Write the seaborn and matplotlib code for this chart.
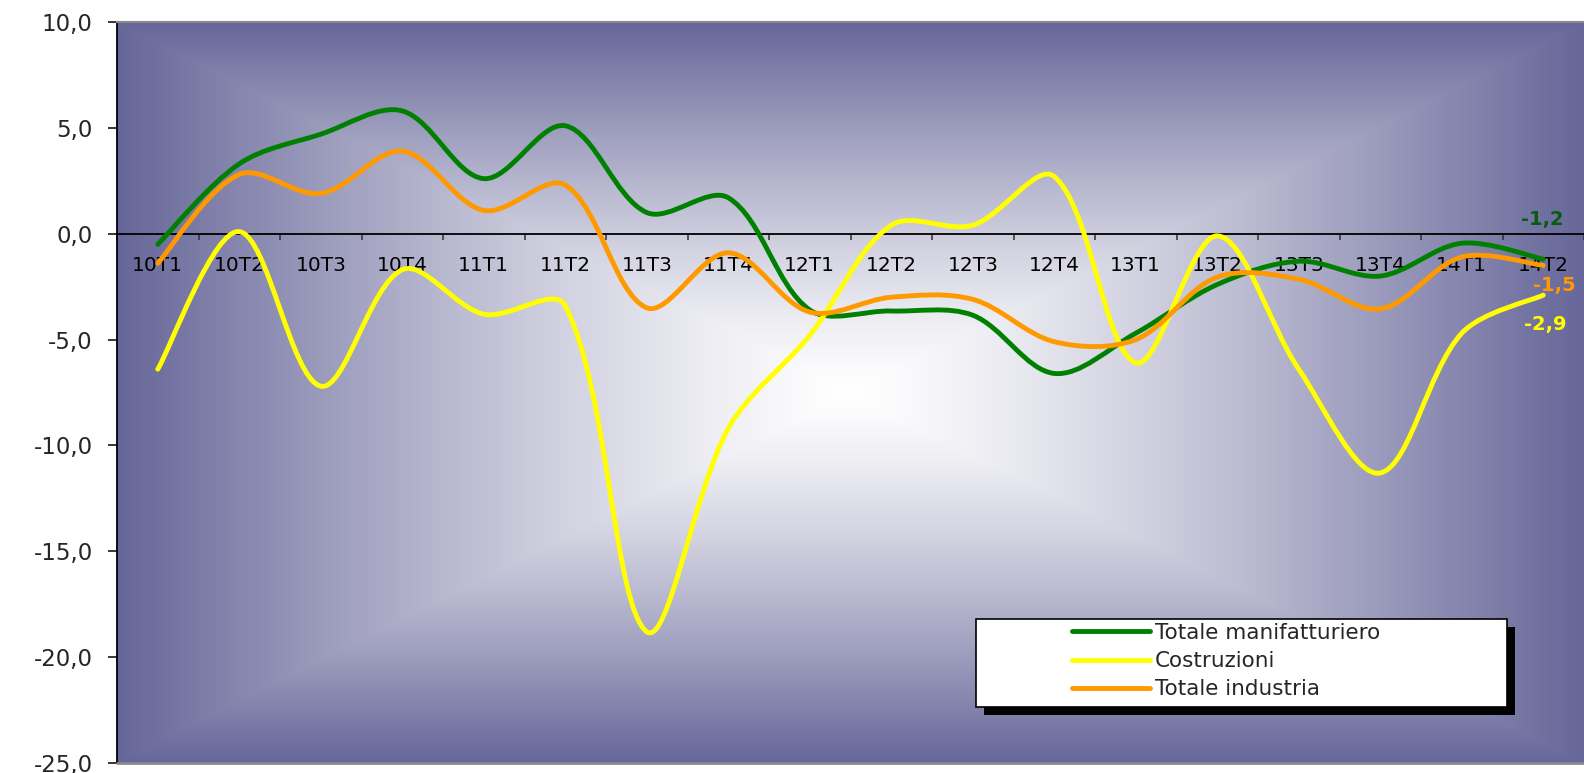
import numpy as np
import pandas as pd
import matplotlib
matplotlib.use("Agg")
import matplotlib.pyplot as plt
from matplotlib.path import Path
from matplotlib.patches import PathPatch, Rectangle
from matplotlib.lines import Line2D
import seaborn as sns

# ---------------- data ----------------
categorie = ['10T1', '10T2', '10T3', '10T4', '11T1', '11T2', '11T3', '11T4', '12T1',
             '12T2', '12T3', '12T4', '13T1', '13T2', '13T3', '13T4', '14T1', '14T2']
manifatturiero = [-0.5, 3.3, 4.7, 5.8, 2.6, 5.1, 1.0, 1.7, -3.6, -3.65, -3.85, -6.6,
                  -4.7, -2.4, -1.3, -2.0, -0.45, -1.2]
costruzioni = [-6.4, 0.1, -7.2, -1.7, -3.8, -3.4, -18.8, -9.2, -4.8, 0.4, 0.4, 2.7,
               -6.1, -0.1, -6.4, -11.3, -4.7, -2.9]
industria = [-1.4, 2.8, 1.9, 3.9, 1.1, 2.3, -3.5, -0.9, -3.7, -3.0, -3.1, -5.1,
             -5.0, -2.05, -2.15, -3.55, -1.1, -1.5]
serie_nomi = ['Totale manifatturiero', 'Costruzioni', 'Totale industria']
serie_valori = [manifatturiero, costruzioni, industria]
colori = ['#008000', '#FFFF00', '#FF9900']
colori_etichette = ['#0B5A12', '#FFFF00', '#FF9900']
y_ticks = [-25, -20, -15, -10, -5, 0, 5, 10]

# ---------------- style ----------------
sns.set_style("ticks")
plt.rcParams['font.family'] = ['DejaVu Sans']

W, H = 1584, 773
fig = plt.figure(figsize=(W / 100, H / 100), dpi=100)
fig.patch.set_facecolor('white')
AX_LEFT = 117
ax = fig.add_axes([AX_LEFT / W, (H - 763) / H, (W - AX_LEFT) / W, (763 - 22) / H])

pos = np.arange(len(categorie))
df = pd.DataFrame({
    'pos': np.tile(pos, len(serie_nomi)),
    'valore': np.concatenate(serie_valori),
    'serie': np.repeat(serie_nomi, len(categorie)),
})
# seaborn sets up the scales (raw points, drawn invisibly; the visible
# curves are Excel-style smoothed Bezier paths through the same points)
sns.lineplot(data=df, x='pos', y='valore', hue='serie', palette=colori,
             linewidth=0, legend=False, ax=ax, zorder=1)

x0, x1 = -0.5, len(categorie) - 0.5
ymin, ymax = -25, 10
XMAX = -0.5 + (W - AX_LEFT) / 82.35

# ---------------- background gradient (rectangular, from centre) ----------------
gx = np.linspace(x0, x1, 700)
gy = np.linspace(ymin, ymax, 450)
GX, GY = np.meshgrid(gx, gy)
cx, cy = (x0 + x1) / 2, (ymin + ymax) / 2
t = np.maximum(np.abs(GX - cx) / ((x1 - x0) / 2), np.abs(GY - cy) / ((ymax - ymin) / 2))
t = np.clip(t, 0, 1) ** 1.3
edge = np.array([102, 102, 153]) / 255
centre = np.array([255, 255, 255]) / 255
img = centre[None, None, :] * (1 - t[..., None]) + edge[None, None, :] * t[..., None]
ax.imshow(img, extent=(x0, x1, ymin, ymax), origin='lower', aspect='auto',
          interpolation='bilinear', zorder=0)
ax.set_xlim(-0.5, XMAX)
ax.set_ylim(ymin, ymax)

# ---------------- smoothed lines (Excel-like Bezier in screen space) ----------------
def bezier_path(xs, ys):
    P = ax.transData.transform(np.column_stack([xs, ys]).astype(float))
    n = len(P)
    f = 1.0 / 6.0
    c_out = np.zeros_like(P)
    c_in = np.zeros_like(P)
    for i in range(n):
        a = P[max(i - 1, 0)]
        b = P[min(i + 1, n - 1)]
        T = b - a
        d_prev = np.hypot(*(P[i] - a))
        d_next = np.hypot(*(b - P[i]))
        s = d_prev + d_next
        if s == 0 or i == 0 or i == n - 1:
            w_in = w_out = 1.0
        else:
            w_in = 2 * d_prev / s
            w_out = 2 * d_next / s
        c_out[i] = P[i] + T * f * w_out
        c_in[i] = P[i] - T * f * w_in
    verts = [P[0]]
    codes = [Path.MOVETO]
    for i in range(n - 1):
        verts += [c_out[i], c_in[i + 1], P[i + 1]]
        codes += [Path.CURVE4] * 3
    verts = ax.transData.inverted().transform(np.array(verts))
    return Path(verts, codes)

for vals, col in zip(serie_valori, colori):
    patch = PathPatch(bezier_path(pos, vals), facecolor='none', edgecolor=col,
                      lw=3.5, capstyle='round', joinstyle='round', zorder=4)
    ax.add_patch(patch)

# ---------------- axes ----------------
ax.set_xlabel('')
ax.set_ylabel('')

ax.spines['bottom'].set_position(('data', 0))
ax.spines['bottom'].set_color('black')
ax.spines['bottom'].set_linewidth(1.3)
ax.spines['bottom'].set_zorder(3)
ax.spines['left'].set_color('black')
ax.spines['left'].set_linewidth(1.3)
ax.spines['top'].set_color('#8a8a8a')
ax.spines['top'].set_linewidth(1.5)
ax.spines['right'].set_visible(False)
ax.axhline(ymin, color='#8a8a8a', lw=2, zorder=3, clip_on=False)

ax.set_xticks(pos)
ax.set_xticklabels(categorie, fontsize=14.5, color='black')
ax.set_xticks(np.arange(len(categorie) + 1) - 0.5, minor=True)
ax.tick_params(axis='x', which='major', length=0, pad=16)
ax.tick_params(axis='x', which='minor', length=4.5, width=1.1, color='#303030',
               direction='out')

ax.set_yticks(y_ticks)
ax.set_yticklabels([f"{v:.1f}".replace('.', ',') for v in y_ticks], fontsize=16.5)
ax.tick_params(axis='y', length=6.5, width=1.1, color='black', direction='out', pad=11)

# ---------------- data labels on the last point ----------------
# offsets (pixels) for: manifatturiero, costruzioni, industria
offsets = [(-22, 40), (-19, -29), (-10, -20)]
for vals, col, (dx, dy) in zip(serie_valori, colori_etichette, offsets):
    ax.annotate(f"{vals[-1]:.1f}".replace('.', ','), xy=(pos[-1], vals[-1]),
                xytext=(dx, dy), textcoords='offset pixels', ha='left', va='center',
                fontsize=14, fontweight='bold', color=col, zorder=6,
                annotation_clip=False)

# ---------------- legend (box with shadow) ----------------
bx0, bx1, by0, by1 = 976, 1507, 619, 707
fig.patches.append(Rectangle(((bx0 + 8) / W, 1 - (by1 + 8) / H), (bx1 - bx0) / W,
                             (by1 - by0) / H, transform=fig.transFigure,
                             facecolor='black', edgecolor='none', zorder=8))
fig.patches.append(Rectangle((bx0 / W, 1 - by1 / H), (bx1 - bx0) / W, (by1 - by0) / H,
                             transform=fig.transFigure, facecolor='white',
                             edgecolor='black', lw=1.2, zorder=9))
handles = [Line2D([0], [0], color=c, lw=3.5, solid_capstyle='round') for c in colori]
leg = fig.legend(handles, serie_nomi, loc='upper left',
                 bbox_to_anchor=(1072 / W, 1 - 623 / H), frameon=False,
                 fontsize=15.5, handlelength=3.6, handletextpad=0.25,
                 labelspacing=0.38, borderpad=0, borderaxespad=0)
leg.set_zorder(10)

fig.savefig('out.png', dpi=100, facecolor='white')
